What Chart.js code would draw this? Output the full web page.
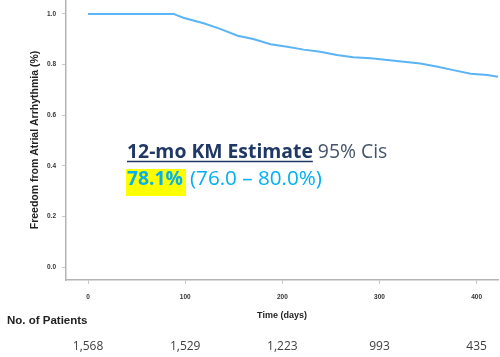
<!DOCTYPE html>
<html><head><meta charset="utf-8">
<script src="https://cdn.jsdelivr.net/npm/chart.js@4/dist/chart.umd.min.js"></script>
<style>html,body{margin:0;padding:0;background:#fff}#wrap{width:500px;height:357px}</style>
</head><body><div id="wrap"><canvas id="c" width="500" height="357"></canvas></div>
<script>
const days = [0, 88, 98, 119, 136, 154, 170, 188, 205, 222, 239, 256, 273, 291, 308, 325, 342, 360, 376, 394, 411, 422];
const freedom = [1.0, 1.0, 0.985, 0.963, 0.941, 0.914, 0.901, 0.880, 0.870, 0.859, 0.851, 0.838, 0.829, 0.825, 0.818, 0.811, 0.804, 0.791, 0.778, 0.764, 0.759, 0.752];
const xTicks = [0, 100, 200, 300, 400];
const yTicks = [0, 0.2, 0.4, 0.6, 0.8, 1.0];
const riskDays = [0, 100, 200, 300, 400];
const riskCounts = ['1,568', '1,529', '1,223', '993', '435'];
const estTitle = '12-mo KM Estimate';
const ciTitle = '95% Cis';
const estValue = '78.1%';
const ciValue = '(76.0 \u2013 80.0%)';

const points = days.map((d, i) => ({x: d, y: freedom[i]}));

function fitSize(ctx, text, weight, family, target) {
  ctx.font = weight + ' 100px ' + family;
  return 100 * target / ctx.measureText(text).width;
}

const overlay = {
  id: 'overlay',
  afterDraw(chart) {
    const ctx = chart.ctx;
    const xs = chart.scales.x;
    ctx.save();
    const fam = '"Open Sans", sans-serif';
    const s1 = fitSize(ctx, estTitle, 'bold', fam, 186);
    ctx.font = 'bold ' + s1 + 'px ' + fam;
    ctx.textBaseline = 'alphabetic';
    ctx.textAlign = 'left';
    ctx.fillStyle = '#1f3864';
    const x0 = 127;
    ctx.fillText(estTitle, x0, 158);
    const w1 = ctx.measureText(estTitle).width;
    ctx.strokeStyle = '#1f3864';
    ctx.lineWidth = 1.5;
    ctx.beginPath(); ctx.moveTo(x0, 161.5); ctx.lineTo(x0 + w1, 161.5); ctx.stroke();
    ctx.font = s1 + 'px ' + fam;
    ctx.fillStyle = '#44546a';
    ctx.fillText(ciTitle, x0 + w1 + 5, 158);

    const s2 = fitSize(ctx, ciValue, 'normal', fam, 132);
    const s3 = fitSize(ctx, estValue, 'bold', fam, 56);
    ctx.fillStyle = '#ffff00';
    ctx.fillRect(126, 169, 60, 27);
    ctx.font = 'bold ' + s3 + 'px ' + fam;
    ctx.fillStyle = '#00b0f0';
    ctx.fillText(estValue, x0, 185);
    ctx.font = s2 + 'px ' + fam;
    ctx.fillText(ciValue, 190, 185);

    ctx.font = 'bold 11.5px "Liberation Sans", Arial, sans-serif';
    ctx.fillStyle = '#222';
    ctx.textBaseline = 'middle';
    ctx.fillText('No. of Patients', 7, 321);
    ctx.font = '12px ' + fam;
    ctx.fillStyle = '#404040';
    ctx.textAlign = 'center';
    riskDays.forEach((d, i) => {
      ctx.fillText(riskCounts[i], xs.getPixelForValue(d), 347);
    });
    ctx.restore();
  }
};

const tickFont = {family: '"Liberation Sans", Arial, sans-serif', size: 6.5, weight: 'bold'};

new Chart(document.getElementById('c'), {
  type: 'line',
  data: {
    datasets: [{
      data: points,
      borderColor: '#5ab4f5',
      borderWidth: 2,
      pointRadius: 0,
      tension: 0,
      fill: false
    }]
  },
  options: {
    responsive: false,
    animation: false,
    devicePixelRatio: 1,
    layout: {padding: {top: 0, right: 2, bottom: 32, left: 0}},
    plugins: {legend: {display: false}, tooltip: {enabled: false}},
    scales: {
      x: {
        type: 'linear',
        min: -22.7,
        max: 422,
        afterBuildTicks: s => { s.ticks = xTicks.map(v => ({value: v})); },
        afterFit: s => { s.height = 45; s.paddingLeft = 0; s.paddingRight = 0; },
        grid: {drawOnChartArea: false, tickLength: 4, color: '#c8c8c8'},
        border: {color: '#b4b4b4', width: 1.5},
        ticks: {font: tickFont, color: '#333', padding: 9, maxRotation: 0, autoSkip: false},
        title: {display: true, text: 'Time (days)', color: '#222',
          font: {family: '"Liberation Sans", Arial, sans-serif', size: 9, weight: 'bold'},
          padding: {top: 4, bottom: 4}}
      },
      y: {
        min: -0.051,
        max: 1.055,
        afterBuildTicks: s => { s.ticks = yTicks.map(v => ({value: v})); },
        afterFit: s => { s.width = 66; s.paddingTop = 0; s.paddingBottom = 0; },
        grid: {drawOnChartArea: false, tickLength: 4, color: '#c8c8c8'},
        border: {color: '#b4b4b4', width: 1.5},
        ticks: {font: tickFont, color: '#333', padding: 6, callback: v => Number(v).toFixed(1)},
        title: {display: true, text: 'Freedom from Atrial Arrhythmia (%)', color: '#222',
          font: {family: '"Liberation Sans", Arial, sans-serif', size: 10.5, weight: 'bold'},
          padding: {top: 29, bottom: 0}}
      }
    }
  },
  plugins: [overlay]
});
</script>
</body></html>
